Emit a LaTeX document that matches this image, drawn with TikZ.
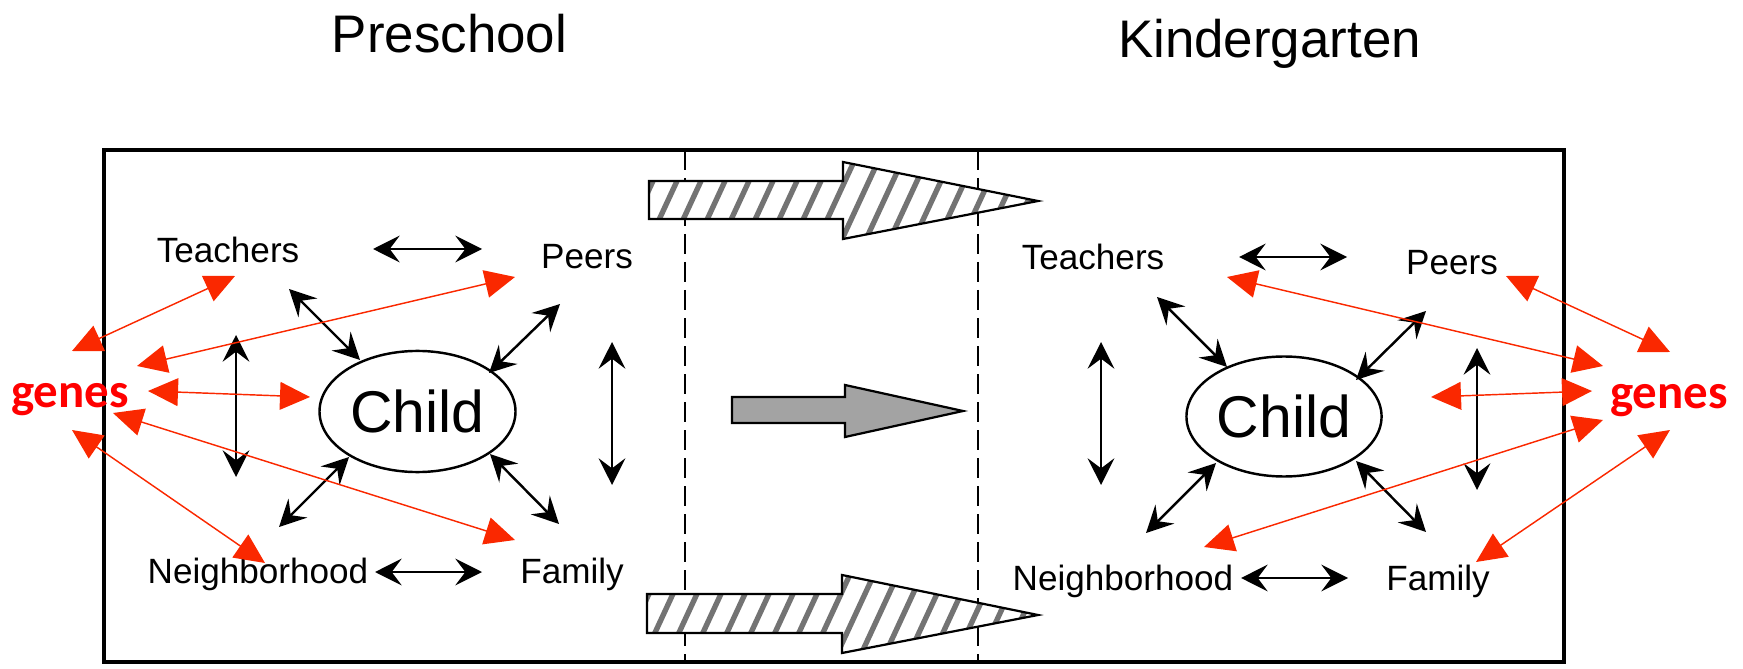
\documentclass[tikz,border=0pt]{standalone}
\usepackage{fontspec}
\setmainfont{Liberation Sans}
\newfontfamily\genesfont{Carlito}
\usetikzlibrary{arrows.meta,shapes.geometric}
\definecolor{redarrow}{RGB}{250,40,0}
\definecolor{genesred}{RGB}{255,0,0}
\tikzset{
  lbl/.style={font=\fontsize{15.8}{18}\selectfont, anchor=base, inner sep=0pt},
  ttl/.style={font=\fontsize{23.8}{28}\selectfont, anchor=base, inner sep=0pt},
  childnode/.style={draw, ellipse, line width=1.1pt, inner sep=0pt, font=\fontsize{26.5}{30}\selectfont},
  genesnode/.style={font=\genesfont\bfseries\fontsize{22}{26}\selectfont, text=genesred, anchor=base, inner sep=0pt},
  barr/.style={line width=1.1pt, {Stealth[length=12pt,width=12pt,inset=4.5pt]}-{Stealth[length=12pt,width=12pt,inset=4.5pt]}},
  rarr/.style={line width=0.65pt, draw=redarrow, {Triangle[length=13.5pt,width=12.5pt]}-{Triangle[length=13.5pt,width=12.5pt]}},
  divider/.style={line width=0.8pt, dash pattern=on 9pt off 3.6pt},
  hatchout/.style={line width=1pt, line join=miter},
  stripe/.style={line width=2.4pt, black!55},
  frameline/.style={line width=2.1pt},
}
\begin{document}
\begin{tikzpicture}[x=0.45pt, y=-0.45pt]
\useasboundingbox (0,0) rectangle (1743,669);

% titles
\node[ttl] (pre) at (449.5,53) {Preschool};
\node[ttl] (kin) at (1269.5,58) {Kindergarten};

% frame and dividers
\draw[frameline] (104,150) rectangle (1564,662);
\coordinate (d1t) at (685,150); \coordinate (d1b) at (685,662);
\coordinate (d2t) at (978,150); \coordinate (d2b) at (978,662);
\draw[divider] (d1t) -- (d1b);
\draw[divider] (d2t) -- (d2b);

% top hatched arrow
\begin{scope}
  \clip (649,181) -- (843,181) -- (843,162) -- (1038,201) -- (843,239) -- (843,219) -- (649,219) -- cycle;
  \fill[white] (640,150) rectangle (1045,245);
  \foreach \k in {-3,...,18} \draw[stripe] ({645+24*\k},250) -- ({696+24*\k},140);
\end{scope}
\draw[hatchout] (649,181) -- (843,181) -- (843,162) -- (1038,201) -- (843,239) -- (843,219) -- (649,219) -- cycle;

% middle grey arrow
\draw[hatchout, fill=black!36] (732,397) -- (845,397) -- (845,385) -- (963,411) -- (845,437) -- (845,423) -- (732,423) -- cycle;

% bottom hatched arrow
\begin{scope}
  \clip (647,594) -- (842,594) -- (842,575) -- (1038,615) -- (842,653) -- (842,633) -- (647,633) -- cycle;
  \fill[white] (640,565) rectangle (1045,660);
  \foreach \k in {-3,...,18} \draw[stripe] ({640+24*\k},665) -- ({691+24*\k},555);
\end{scope}
\draw[hatchout] (647,594) -- (842,594) -- (842,575) -- (1038,615) -- (842,653) -- (842,633) -- (647,633) -- cycle;

% ---------- left cluster ----------
\node[lbl] (tL) at (228,263) {Teachers};
\node[lbl] (pL) at (587,269) {Peers};
\node[lbl] (nL) at (258,583) {Neighborhood};
\node[lbl] (fL) at (572,583) {Family};
\node[childnode, minimum width=88.2pt, minimum height=54.5pt] (cL) at (417.5,411.5) {Child};
\node[genesnode] (gL) at (70,407) {genes};

\coordinate (tpL1) at (373,249); \coordinate (tpL2) at (482,249);
\coordinate (nfL1) at (375,572); \coordinate (nfL2) at (482,572);
\coordinate (vlL1) at (236,335); \coordinate (vlL2) at (236,477);
\coordinate (vrL1) at (612,342); \coordinate (vrL2) at (612,485);
\coordinate (tcL1) at (289,289); \coordinate (tcL2) at (360,360);
\coordinate (pcL1) at (560,304); \coordinate (pcL2) at (489,373);
\coordinate (ncL1) at (279,527); \coordinate (ncL2) at (349,457);
\coordinate (fcL1) at (559,524); \coordinate (fcL2) at (490,454);
\draw[barr] (tpL1) -- (tpL2);
\draw[barr] (nfL1) -- (nfL2);
\draw[barr] (vlL1) -- (vlL2);
\draw[barr] (vrL1) -- (vrL2);
\draw[barr] (tcL1) -- (tcL2);
\draw[barr] (pcL1) -- (pcL2);
\draw[barr] (ncL1) -- (ncL2);
\draw[barr] (fcL1) -- (fcL2);

\coordinate (gtL1) at (72,351);  \coordinate (gtL2) at (235,276);
\coordinate (gpL1) at (137,366); \coordinate (gpL2) at (515,277);
\coordinate (gcL1) at (148,391); \coordinate (gcL2) at (310,397);
\coordinate (gfL1) at (113,413); \coordinate (gfL2) at (515,540);
\coordinate (gnL1) at (72,430);  \coordinate (gnL2) at (265,563);
\draw[rarr] (gtL1) -- (gtL2);
\draw[rarr] (gpL1) -- (gpL2);
\draw[rarr] (gcL1) -- (gcL2);
\draw[rarr] (gfL1) -- (gfL2);
\draw[rarr] (gnL1) -- (gnL2);

% ---------- right cluster ----------
\node[lbl] (tR) at (1093,270) {Teachers};
\node[lbl] (pR) at (1452,275) {Peers};
\node[lbl] (nR) at (1123,590) {Neighborhood};
\node[lbl] (fR) at (1438,590) {Family};
\node[childnode, minimum width=87.8pt, minimum height=54pt] (cR) at (1284,416.5) {Child};
\node[genesnode] (gR) at (1669,408) {genes};

\coordinate (tpR1) at (1239,257); \coordinate (tpR2) at (1347,257);
\coordinate (nfR1) at (1241,578); \coordinate (nfR2) at (1348,578);
\coordinate (vlR1) at (1101,342); \coordinate (vlR2) at (1101,485);
\coordinate (vrR1) at (1477,348); \coordinate (vrR2) at (1477,490);
\coordinate (tcR1) at (1157,297); \coordinate (tcR2) at (1227,367);
\coordinate (pcR1) at (1426,311); \coordinate (pcR2) at (1356,380);
\coordinate (ncR1) at (1146,533); \coordinate (ncR2) at (1216,463);
\coordinate (fcR1) at (1426,532); \coordinate (fcR2) at (1356,461);
\draw[barr] (tpR1) -- (tpR2);
\draw[barr] (nfR1) -- (nfR2);
\draw[barr] (vlR1) -- (vlR2);
\draw[barr] (vrR1) -- (vrR2);
\draw[barr] (tcR1) -- (tcR2);
\draw[barr] (pcR1) -- (pcR2);
\draw[barr] (ncR1) -- (ncR2);
\draw[barr] (fcR1) -- (fcR2);

\coordinate (gtR1) at (1603,366); \coordinate (gtR2) at (1227,277);
\coordinate (gpR1) at (1670,352); \coordinate (gpR2) at (1506,276);
\coordinate (gcR1) at (1592,391); \coordinate (gcR2) at (1431,397);
\coordinate (gnR1) at (1603,420); \coordinate (gnR2) at (1204,547);
\coordinate (gfR1) at (1670,430); \coordinate (gfR2) at (1476,562);
\draw[rarr] (gtR1) -- (gtR2);
\draw[rarr] (gpR1) -- (gpR2);
\draw[rarr] (gcR1) -- (gcR2);
\draw[rarr] (gnR1) -- (gnR2);
\draw[rarr] (gfR1) -- (gfR2);
\end{tikzpicture}
\end{document}
